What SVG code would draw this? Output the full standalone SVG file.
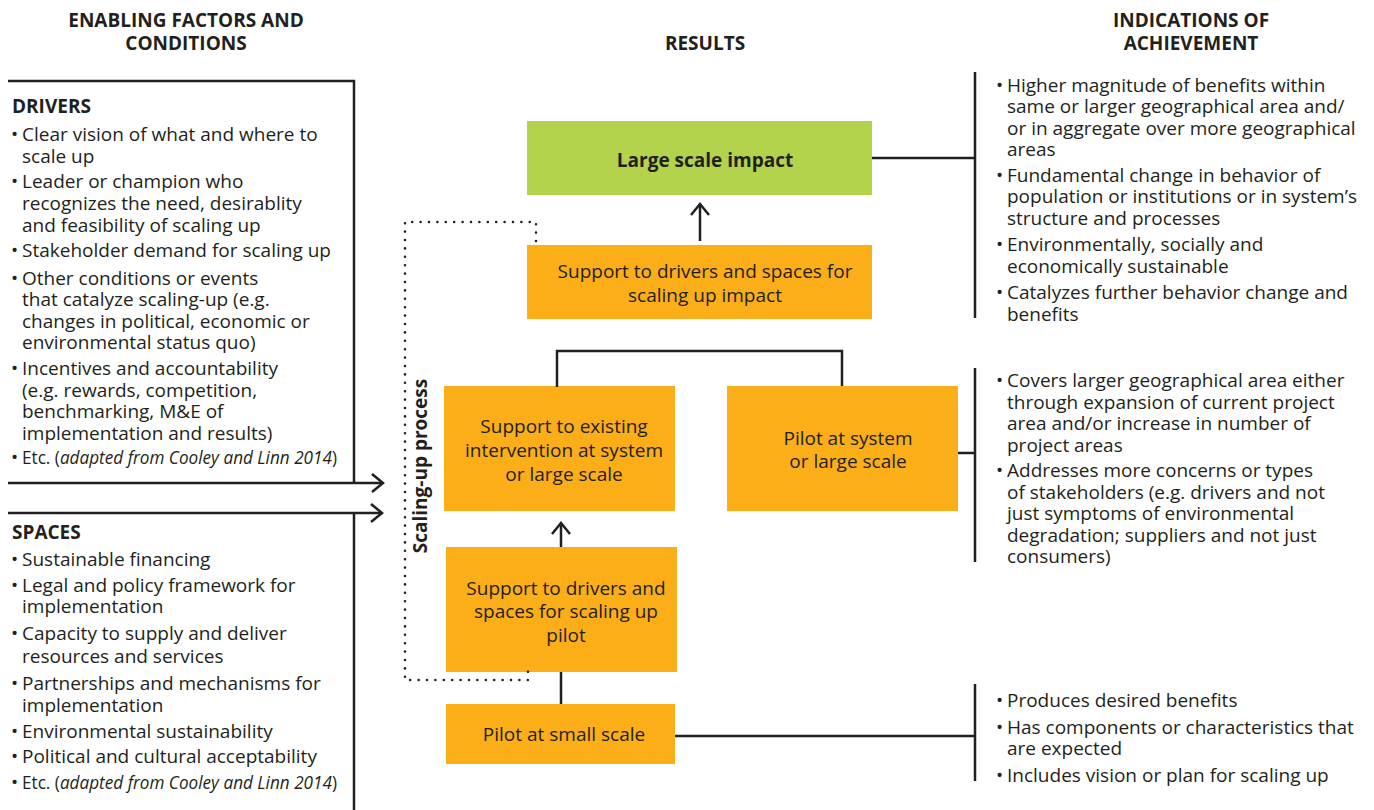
<svg xmlns="http://www.w3.org/2000/svg" width="1374" height="810" viewBox="0 0 1374 810">
  <style>
    .t { font-family: 'Open Sans', 'Liberation Sans', Arial, sans-serif; font-size: 19px; fill: #231F20; }
    .b { font-weight: 700; }
    .c { text-anchor: middle; }
    .i { font-style: italic; }
    .ln { stroke: #231F20; stroke-width: 2.5; fill: none; }
    .dot { stroke: #231F20; stroke-width: 2.6; stroke-linecap: round; stroke-dasharray: 0 8.4; fill: none; }
    .org { fill: #FBAE17; }
    .grn { fill: #B2D34B; }
  </style>
  <defs>
    <marker id="chev" markerUnits="userSpaceOnUse" markerWidth="16" markerHeight="22" refX="12" refY="9" orient="auto" overflow="visible">
      <path d="M1,0 L12,9 L1,18" fill="none" stroke="#231F20" stroke-width="2.5"/>
    </marker>
  </defs>

  <rect width="1374" height="810" fill="#FFFFFF"/>

  <!-- column headings -->
  <g id="headings" class="t b c">
    <text x="186" y="27">ENABLING FACTORS AND<tspan x="186" y="50">CONDITIONS</tspan></text>
    <text x="705" y="50">RESULTS</text>
    <text x="1191" y="27">INDICATIONS OF<tspan x="1191" y="50">ACHIEVEMENT</tspan></text>
  </g>

  <!-- enabling factors: drivers -->
  <g id="drivers" class="t">
    <text x="12" y="113" class="b">DRIVERS</text>
    <text x="11" y="141">•<tspan x="22">Clear vision of what and where to</tspan><tspan x="22" y="163">scale up</tspan></text>
    <text x="11" y="188">•<tspan x="22">Leader or champion who</tspan><tspan x="22" y="210">recognizes the need, desirablity</tspan><tspan x="22" y="232">and feasibility of scaling up</tspan></text>
    <text x="11" y="257">•<tspan x="22">Stakeholder demand for scaling up</tspan></text>
    <text x="11" y="285">•<tspan x="22">Other conditions or events</tspan><tspan x="22" y="306">that catalyze scaling-up (e.g.</tspan><tspan x="22" y="328">changes in political, economic or</tspan><tspan x="22" y="349">environmental status quo)</tspan></text>
    <text x="11" y="375">•<tspan x="22">Incentives and accountability</tspan><tspan x="22" y="397">(e.g. rewards, competition,</tspan><tspan x="22" y="418">benchmarking, M&amp;E of</tspan><tspan x="22" y="440">implementation and results)</tspan></text>
    <text x="11" y="464">•</text>
    <text x="22" y="464" textLength="315" lengthAdjust="spacingAndGlyphs">Etc. (<tspan class="i">adapted from Cooley and Linn 2014</tspan>)</text>
  </g>

  <!-- enabling factors: spaces -->
  <g id="spaces" class="t">
    <text x="12" y="539" class="b">SPACES</text>
    <text x="11" y="566">•<tspan x="22">Sustainable financing</tspan></text>
    <text x="11" y="592">•<tspan x="22">Legal and policy framework for</tspan><tspan x="22" y="613">implementation</tspan></text>
    <text x="11" y="640">•<tspan x="22">Capacity to supply and deliver</tspan><tspan x="22" y="663">resources and services</tspan></text>
    <text x="11" y="690">•<tspan x="22">Partnerships and mechanisms for</tspan><tspan x="22" y="712">implementation</tspan></text>
    <text x="11" y="738">•<tspan x="22">Environmental sustainability</tspan></text>
    <text x="11" y="763">•<tspan x="22">Political and cultural acceptability</tspan></text>
    <text x="11" y="789">•</text>
    <text x="22" y="789" textLength="315" lengthAdjust="spacingAndGlyphs">Etc. (<tspan class="i">adapted from Cooley and Linn 2014</tspan>)</text>
  </g>

  <!-- results column -->
  <g id="large-scale-impact">
    <rect class="grn" x="527" y="121" width="345" height="74"/>
    <text class="t b c" x="705" y="167">Large scale impact</text>
  </g>
  <g id="support-impact">
    <rect class="org" x="527" y="245" width="345" height="74"/>
    <text class="t c" x="705" y="278">Support to drivers and spaces for<tspan x="705" y="302">scaling up impact</tspan></text>
  </g>
  <g id="support-existing">
    <rect class="org" x="444" y="386" width="231" height="125"/>
    <text class="t c" x="564" y="433">Support to existing<tspan x="564" y="457">intervention at system</tspan><tspan x="564" y="481">or large scale</tspan></text>
  </g>
  <g id="pilot-system">
    <rect class="org" x="727" y="386" width="231" height="125"/>
    <text class="t c" x="848" y="445">Pilot at system<tspan x="848" y="468">or large scale</tspan></text>
  </g>
  <g id="support-pilot">
    <rect class="org" x="446" y="547" width="231" height="125"/>
    <text class="t c" x="566" y="595">Support to drivers and<tspan x="566" y="618">spaces for scaling up</tspan><tspan x="566" y="642">pilot</tspan></text>
  </g>
  <g id="pilot-small">
    <rect class="org" x="446" y="704" width="229" height="60"/>
    <text class="t c" x="564" y="741">Pilot at small scale</text>
  </g>

  <!-- scaling-up process frame -->
  <g id="scaling-process">
    <path class="dot" d="M536,241 L536,222 L405,222 L405,680 L528,680 L528,671"/>
    <text class="t b c" transform="translate(427,466) rotate(-90)">Scaling-up process</text>
  </g>

  <!-- indications of achievement -->
  <g id="indications-impact" class="t">
    <text x="996" y="92">•<tspan x="1007">Higher magnitude of benefits within</tspan><tspan x="1007" y="113">same or larger geographical area and/</tspan><tspan x="1007" y="135">or in aggregate over more geographical</tspan><tspan x="1007" y="156">areas</tspan></text>
    <text x="996" y="182">•<tspan x="1007">Fundamental change in behavior of</tspan><tspan x="1007" y="203">population or institutions or in system’s</tspan><tspan x="1007" y="225">structure and processes</tspan></text>
    <text x="996" y="251">•<tspan x="1007">Environmentally, socially and</tspan><tspan x="1007" y="273">economically sustainable</tspan></text>
    <text x="996" y="299">•<tspan x="1007">Catalyzes further behavior change and</tspan><tspan x="1007" y="321">benefits</tspan></text>
  </g>
  <g id="indications-system" class="t">
    <text x="996" y="387">•<tspan x="1007">Covers larger geographical area either</tspan><tspan x="1007" y="409">through expansion of current project</tspan><tspan x="1007" y="430">area and/or increase in number of</tspan><tspan x="1007" y="452">project areas</tspan></text>
    <text x="996" y="477">•<tspan x="1007">Addresses more concerns or types</tspan><tspan x="1007" y="499">of stakeholders (e.g. drivers and not</tspan><tspan x="1007" y="520">just symptoms of environmental</tspan><tspan x="1007" y="542">degradation; suppliers and not just</tspan><tspan x="1007" y="563">consumers)</tspan></text>
  </g>
  <g id="indications-pilot" class="t">
    <text x="996" y="707">•<tspan x="1007">Produces desired benefits</tspan></text>
    <text x="996" y="734">•<tspan x="1007">Has components or characteristics that</tspan><tspan x="1007" y="755">are expected</tspan></text>
    <text x="996" y="782">•<tspan x="1007">Includes vision or plan for scaling up</tspan></text>
  </g>

  <!-- connectors -->
  <g id="connectors" class="ln">
    <!-- enabling factors frame and input arrows -->
    <path d="M8,81 L354,81 L354,483"/>
    <path d="M354,513 L354,810"/>
    <line x1="8" y1="483" x2="383" y2="483" marker-end="url(#chev)"/>
    <line x1="8" y1="513" x2="382" y2="513" marker-end="url(#chev)"/>
    <!-- results flow -->
    <line x1="700" y1="241" x2="700" y2="204" marker-end="url(#chev)"/>
    <line x1="561" y1="547" x2="561" y2="523" marker-end="url(#chev)"/>
    <path d="M557,387 L557,351 L842,351 L842,386"/>
    <line x1="561" y1="672" x2="561" y2="704"/>
    <!-- links to indications -->
    <line x1="872" y1="158" x2="975" y2="158"/>
    <line x1="975" y1="72" x2="975" y2="318"/>
    <line x1="958" y1="453" x2="975" y2="453"/>
    <line x1="975" y1="368" x2="975" y2="562"/>
    <line x1="675" y1="736" x2="975" y2="736"/>
    <line x1="975" y1="684" x2="975" y2="781"/>
  </g>
</svg>
